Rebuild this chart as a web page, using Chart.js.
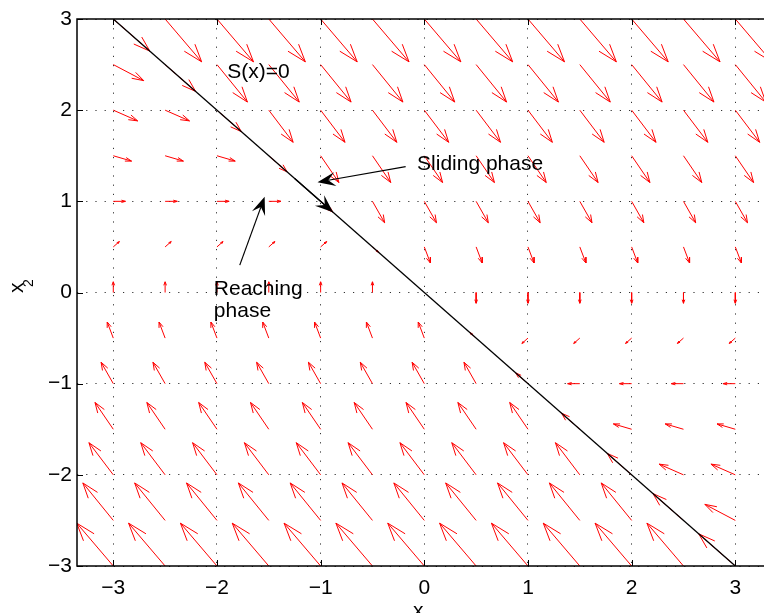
<!DOCTYPE html>
<html lang="en">
<head>
<meta charset="UTF-8">
<title>Sliding mode phase portrait</title>
<style>
  html, body { margin: 0; padding: 0; overflow: hidden; background: #fff; }
  #wrap { position: absolute; left: 0; top: 0; width: 790px; height: 640px; }
</style>
<script src="https://cdn.jsdelivr.net/npm/chart.js"></script>
</head>
<body>
<div id="wrap"><canvas id="phase"></canvas></div>
<script>
// sample points of the quiver grid
const x1Points = [-3, -2.5, -2, -1.5, -1, -0.5, 0, 0.5, 1, 1.5, 2, 2.5, 3];
const x2Points = [-3, -2.5, -2, -1.5, -1, -0.5, 0, 0.5, 1, 1.5, 2, 2.5, 3];

// horizontal component, one value per row (it does not change along a row)
const dx1Rows = [-3, -2.5, -2, -1.5, -1, -0.5, 0, 0.5, 1, 1.5, 2, 2.5, 3];

// vertical component, one row per x2 value (bottom row first)
const dx2Rows = [
  [4, 4, 4, 4, 4, 4, 4, 4, 4, 4, 4, 4, 3],
  [3.5, 3.5, 3.5, 3.5, 3.5, 3.5, 3.5, 3.5, 3.5, 3.5, 3.5, 2.5, 1.5],
  [3, 3, 3, 3, 3, 3, 3, 3, 3, 3, 2, 1, 1],
  [2.5, 2.5, 2.5, 2.5, 2.5, 2.5, 2.5, 2.5, 2.5, 1.5, 0.5, 0.5, 0.5],
  [2, 2, 2, 2, 2, 2, 2, 2, 1, 0, 0, 0, 0],
  [1.5, 1.5, 1.5, 1.5, 1.5, 1.5, 1.5, 0.5, -0.5, -0.5, -0.5, -0.5, -0.5],
  [1, 1, 1, 1, 1, 1, 0, -1, -1, -1, -1, -1, -1],
  [0.5, 0.5, 0.5, 0.5, 0.5, -0.5, -1.5, -1.5, -1.5, -1.5, -1.5, -1.5, -1.5],
  [0, 0, 0, 0, -1, -2, -2, -2, -2, -2, -2, -2, -2],
  [-0.5, -0.5, -0.5, -1.5, -2.5, -2.5, -2.5, -2.5, -2.5, -2.5, -2.5, -2.5, -2.5],
  [-1, -1, -2, -3, -3, -3, -3, -3, -3, -3, -3, -3, -3],
  [-1.5, -2.5, -3.5, -3.5, -3.5, -3.5, -3.5, -3.5, -3.5, -3.5, -3.5, -3.5, -3.5],
  [-3, -4, -4, -4, -4, -4, -4, -4, -4, -4, -4, -4, -4]
];

// switching line S(x)=0
const surfaceX1 = [-3, 3];
const surfaceX2 = [3, -3];

const xTicks = [-3, -2, -1, 0, 1, 2, 3];
const yTicks = [-3, -2, -1, 0, 1, 2, 3];

// annotations (data coordinates)
const slidingArrow = { from: [-0.18, 1.38], to: [-1.03, 1.21] };
const alongArrow = { from: [-1.25, 1.25], to: [-0.88, 0.88] };
const reachingArrow = { from: [-1.78, 0.30], to: [-1.54, 1.05] };

const FONT = '"Liberation Sans", Arial, Helvetica, sans-serif';
const quiverScale = 0.1175;   // matlab style autoscale
const headA = 0.33, headB = 0.33;

// build the arrow polyline, gaps split each arrow
const arrowPts = [];
x2Points.forEach((y0, j) => {
  x1Points.forEach((x0, i) => {
    const u = dx1Rows[j] * quiverScale;
    const v = dx2Rows[j][i] * quiverScale;
    if (u === 0 && v === 0) return;
    const tx = x0 + u, ty = y0 + v;
    arrowPts.push({x: x0, y: y0}, {x: tx, y: ty}, {x: tx, y: null});
    arrowPts.push(
      {x: tx - headA * (u + headB * v), y: ty - headA * (v - headB * u)},
      {x: tx, y: ty},
      {x: tx - headA * (u - headB * v), y: ty - headA * (v + headB * u)},
      {x: tx, y: null}
    );
  });
});

const surfacePts = surfaceX1.map((v, k) => ({x: v, y: surfaceX2[k]}));

function minusLabel(v) {
  return v < 0 ? '\u2212' + Math.abs(v) : String(v);
}

function drawHead(ctx, tx, ty, ux, uy) {
  const L = 18, H = 7, N = 11;
  const nx = -uy, ny = ux;
  ctx.beginPath();
  ctx.moveTo(tx, ty);
  ctx.lineTo(tx - ux * L + nx * H, ty - uy * L + ny * H);
  ctx.lineTo(tx - ux * N, ty - uy * N);
  ctx.lineTo(tx - ux * L - nx * H, ty - uy * L - ny * H);
  ctx.closePath();
  ctx.fill();
}

function drawArrow(ctx, xs, ys, arrow) {
  const x1 = xs.getPixelForValue(arrow.from[0]), y1 = ys.getPixelForValue(arrow.from[1]);
  const x2 = xs.getPixelForValue(arrow.to[0]), y2 = ys.getPixelForValue(arrow.to[1]);
  const len = Math.hypot(x2 - x1, y2 - y1);
  const ux = (x2 - x1) / len, uy = (y2 - y1) / len;
  ctx.beginPath();
  ctx.moveTo(x1, y1);
  ctx.lineTo(x2 - ux * 11, y2 - uy * 11);
  ctx.stroke();
  drawHead(ctx, x2, y2, ux, uy);
}

const decorations = {
  id: 'decorations',
  afterDraw(chart) {
    const {ctx, chartArea: a, scales: {x, y}} = chart;
    ctx.save();
    ctx.strokeStyle = '#000';
    ctx.fillStyle = '#000';

    // axes box
    ctx.lineWidth = 1.5;
    ctx.strokeRect(a.left, a.top, a.right - a.left, a.bottom - a.top);

    // inward ticks
    ctx.lineWidth = 1;
    ctx.beginPath();
    xTicks.forEach(v => {
      const px = Math.round(x.getPixelForValue(v)) + 0.5;
      ctx.moveTo(px, a.bottom); ctx.lineTo(px, a.bottom - 6);
      ctx.moveTo(px, a.top); ctx.lineTo(px, a.top + 6);
    });
    yTicks.forEach(v => {
      const py = Math.round(y.getPixelForValue(v)) + 0.5;
      ctx.moveTo(a.left, py); ctx.lineTo(a.left + 6, py);
      ctx.moveTo(a.right, py); ctx.lineTo(a.right - 6, py);
    });
    ctx.stroke();

    // annotation arrows
    ctx.lineWidth = 1.2;
    drawArrow(ctx, x, y, slidingArrow);
    drawArrow(ctx, x, y, alongArrow);
    drawArrow(ctx, x, y, reachingArrow);

    // annotation text
    ctx.font = '21px ' + FONT;
    ctx.textAlign = 'left';
    ctx.textBaseline = 'alphabetic';
    ctx.fillText('S(x)=0', x.getPixelForValue(-1.90), y.getPixelForValue(2.35));
    ctx.fillText('Sliding phase', x.getPixelForValue(-0.07), y.getPixelForValue(1.34));
    ctx.fillText('Reaching', x.getPixelForValue(-2.03), y.getPixelForValue(-0.03));
    ctx.fillText('phase', x.getPixelForValue(-2.03), y.getPixelForValue(-0.27));

    // axis labels x_1 and x_2
    ctx.fillText('x', 413, 617);
    ctx.font = '14px ' + FONT;
    ctx.fillText('1', 424, 627);

    ctx.translate(23, 293);
    ctx.rotate(-Math.PI / 2);
    ctx.font = '21px ' + FONT;
    ctx.fillText('x', 0, 0);
    ctx.font = '14px ' + FONT;
    ctx.fillText('2', 6, 10);
    ctx.restore();
  }
};

new Chart(document.getElementById('phase'), {
  type: 'scatter',
  data: {
    datasets: [
      {
        data: surfacePts,
        showLine: true,
        borderColor: '#000',
        borderWidth: 1.3,
        pointRadius: 0,
        order: 0
      },
      {
        data: arrowPts,
        showLine: true,
        spanGaps: false,
        borderColor: '#ff0000',
        borderWidth: 1,
        pointRadius: 0,
        order: 1
      }
    ]
  },
  options: {
    responsive: true,
    maintainAspectRatio: false,
    devicePixelRatio: 1,
    animation: false,
    events: [],
    layout: { padding: { left: 0, top: 19, right: 18.4, bottom: 34 } },
    plugins: { legend: { display: false }, tooltip: { enabled: false } },
    scales: {
      x: {
        type: 'linear',
        min: -3.35,
        max: 3.35,
        afterBuildTicks: s => { s.ticks = xTicks.map(v => ({value: v})); },
        afterFit: s => { s.height = 40; },
        grid: { color: '#333', lineWidth: 1, drawTicks: false },
        border: { display: false, dash: [1.2, 8] },
        ticks: {
          color: '#000',
          padding: 10,
          maxRotation: 0,
          font: { family: FONT, size: 21 },
          callback: v => minusLabel(v)
        }
      },
      y: {
        type: 'linear',
        min: -3,
        max: 3,
        afterBuildTicks: s => { s.ticks = yTicks.map(v => ({value: v})); },
        afterFit: s => { s.width = 77; },
        grid: { color: '#333', lineWidth: 1, drawTicks: false },
        border: { display: false, dash: [1.2, 8] },
        ticks: {
          color: '#000',
          padding: 5,
          font: { family: FONT, size: 21 },
          callback: v => minusLabel(v)
        }
      }
    }
  },
  plugins: [decorations]
});
</script>
</body>
</html>
